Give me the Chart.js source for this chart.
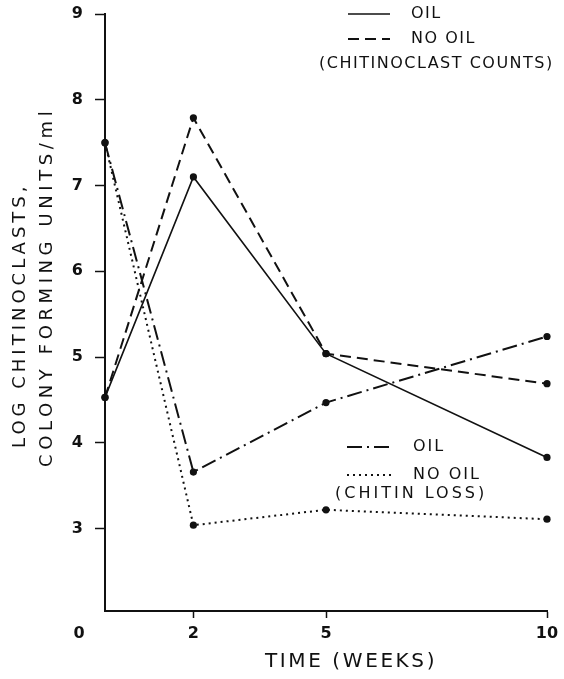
<!DOCTYPE html>
<html>
<head>
<meta charset="utf-8">
<script src="https://cdn.jsdelivr.net/npm/chart.js@4.4.1/dist/chart.umd.min.js"></script>
<style>
  html, body { margin: 0; padding: 0; background: #fff; }
</style>
</head>
<body>
<canvas id="chart" width="564" height="679"></canvas>
<script>
// Weeks on the x axis and tick values
const weeks = [0, 2, 5, 10];
const xTicks = [2, 5, 10];
const yTicks = [3, 4, 5, 6, 7, 8, 9];

// Log chitinoclasts, colony forming units/ml
const oilCounts = [4.53, 7.10, 5.04, 3.83];
const noOilCounts = [4.53, 7.79, 5.04, 4.69];
const oilChitinLoss = [7.50, 3.66, 4.47, 5.24];
const noOilChitinLoss = [7.50, 3.04, 3.22, 3.11];

// Texts
const seriesLabels = ['OIL', 'NO OIL', 'OIL', 'NO OIL'];
const groupNotes = ['(CHITINOCLAST COUNTS)', '(CHITIN LOSS)'];
const yTitle = ['LOG CHITINOCLASTS,', 'COLONY FORMING UNITS/ml'];
const xTitle = 'TIME (WEEKS)';

const FONT = 'DejaVu Sans';
const INK = '#111';

function toPoints(values) {
    return weeks.map((w, i) => ({ x: w, y: values[i] }));
}

function makeDataset(label, values, dash, width) {
    return {
        label: label,
        data: toPoints(values),
        borderColor: INK,
        borderWidth: width,
        borderDash: dash,
        backgroundColor: INK,
        pointBackgroundColor: INK,
        pointBorderColor: INK,
        pointRadius: 3.6,
        pointBorderWidth: 0,
        tension: 0,
        fill: false,
        clip: false
    };
}

// Two small legends placed inside the plot, like the original
const legendBlocks = [
    { items: [0, 1], note: 0, lineX: [348, 390], textX: 411, rowsY: [14, 39], noteX: 319, noteY: 64, spacing: 1.5, noteSpacing: 1.5 },
    { items: [2, 3], note: 1, lineX: [347, 393], textX: 413, rowsY: [447, 475], noteX: 335, noteY: 494, spacing: 2, noteSpacing: 3 }
];

// Spaced-out text helper
function spacedText(ctx, text, x, y, spacing) {
    ctx.letterSpacing = spacing + 'px';
    ctx.fillText(text, x, y);
    ctx.letterSpacing = '0px';
}

const notesPlugin = {
    id: 'notes',
    afterDraw(chart) {
        const ctx = chart.ctx;
        const xs = chart.scales.x;
        const ys = chart.scales.y;
        ctx.save();
        ctx.fillStyle = INK;
        ctx.strokeStyle = INK;
        ctx.textBaseline = 'middle';
        ctx.textAlign = 'left';

        // legends
        ctx.font = '16px "' + FONT + '"';
        legendBlocks.forEach(b => {
            b.items.forEach((idx, r) => {
                const ds = chart.data.datasets[idx];
                const y = b.rowsY[r];
                ctx.lineWidth = ds.borderWidth;
                ctx.setLineDash(ds.borderDash);
                ctx.beginPath();
                ctx.moveTo(b.lineX[0], y);
                ctx.lineTo(b.lineX[1], y);
                ctx.stroke();
                ctx.setLineDash([]);
                spacedText(ctx, seriesLabels[idx], b.textX, y, b.spacing);
            });
            spacedText(ctx, groupNotes[b.note], b.noteX, b.noteY, b.noteSpacing);
        });

        // axis titles
        ctx.font = '20px "' + FONT + '"';
        spacedText(ctx, xTitle, 265, 662, 2.6);

        ctx.font = '18px "' + FONT + '"';
        ctx.save();
        ctx.translate(20, 448);
        ctx.rotate(-Math.PI / 2);
        spacedText(ctx, yTitle[0], 0, 0, 4);
        ctx.restore();
        ctx.save();
        ctx.translate(47, 467);
        ctx.rotate(-Math.PI / 2);
        spacedText(ctx, yTitle[1], 0, 0, 4.6);
        ctx.restore();

        // the "0" of the time axis sits left of the corner
        const t = xs.options.ticks;
        ctx.font = 'bold ' + t.font.size + 'px "' + FONT + '"';
        ctx.textAlign = 'center';
        ctx.fillText('0', xs.getPixelForValue(0) - 26, xs.top + xs.options.grid.tickLength + t.padding + t.font.size * 0.6);
        ctx.restore();
    }
};

new Chart(document.getElementById('chart'), {
    type: 'line',
    data: {
        datasets: [
            makeDataset('OIL', oilCounts, [], 1.6),
            makeDataset('NO OIL', noOilCounts, [11, 6], 2),
            makeDataset('OIL', oilChitinLoss, [15, 5, 2, 5], 2),
            makeDataset('NO OIL', noOilChitinLoss, [2, 4], 2)
        ]
    },
    options: {
        responsive: false,
        devicePixelRatio: 1,
        animation: false,
        layout: { padding: { top: 14, right: 17, left: 0, bottom: 0 } },
        plugins: {
            legend: { display: false },
            tooltip: { enabled: false }
        },
        scales: {
            x: {
                type: 'linear',
                min: 0,
                max: 10,
                afterBuildTicks: s => { s.ticks = xTicks.map(v => ({ value: v })); },
                afterFit: s => { s.height = 68; s.paddingLeft = 0; s.paddingRight = 0; },
                grid: { drawOnChartArea: false, tickLength: 7, tickColor: INK, tickWidth: 1.5 },
                border: { color: INK, width: 2 },
                ticks: { color: INK, padding: 6, maxRotation: 0, font: { family: FONT, size: 16, weight: 'bold' } }
            },
            y: {
                type: 'linear',
                min: 2.04,
                max: 9,
                afterBuildTicks: s => { s.ticks = yTicks.map(v => ({ value: v })); },
                afterFit: s => { s.width = 105; s.paddingTop = 0; s.paddingBottom = 0; },
                grid: { drawOnChartArea: false, tickLength: 10, tickColor: INK, tickWidth: 1.5 },
                border: { color: INK, width: 2 },
                ticks: { color: INK, padding: 12, font: { family: FONT, size: 16, weight: 'bold' } }
            }
        }
    },
    plugins: [notesPlugin]
});
</script>
</body>
</html>
